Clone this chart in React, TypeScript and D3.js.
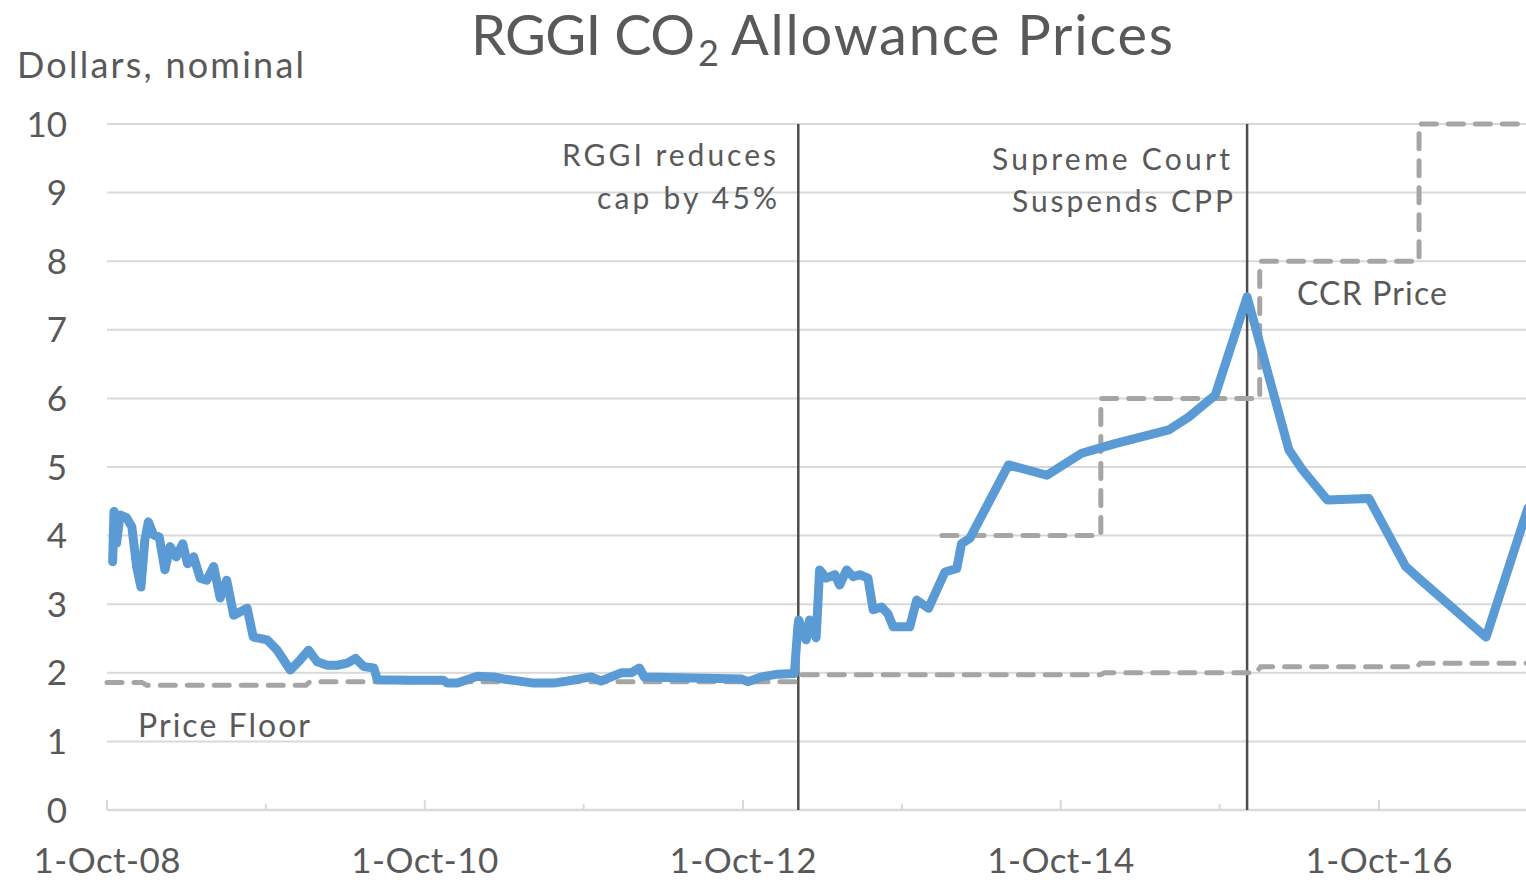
import React from 'react';
import * as d3 from 'd3';

// RGGI secondary market / auction prices
const priceDates = [
  '2008-10-14', '2008-10-17', '2008-10-23', '2008-10-31', '2008-11-15', '2008-11-27', '2008-12-08',
  '2008-12-18', '2008-12-27', '2009-01-04', '2009-01-16', '2009-01-29', '2009-02-11', '2009-02-23',
  '2009-03-09', '2009-03-24', '2009-04-04', '2009-04-18', '2009-05-03', '2009-05-18', '2009-06-03',
  '2009-06-18', '2009-07-03', '2009-07-19', '2009-08-19', '2009-09-02', '2009-10-04', '2009-10-27',
  '2009-11-26', '2009-12-19', '2010-01-07', '2010-01-27', '2010-02-19', '2010-03-14', '2010-04-06',
  '2010-04-25', '2010-05-14', '2010-06-06', '2010-06-14', '2010-08-29', '2010-11-13', '2010-11-22',
  '2010-12-15', '2011-01-30', '2011-03-08', '2011-03-31', '2011-06-08', '2011-07-24', '2011-08-25',
  '2011-10-18', '2011-11-10', '2011-12-26', '2012-01-18', '2012-02-06', '2012-02-17', '2012-09-27',
  '2012-10-12', '2012-11-12', '2012-12-20', '2013-01-27', '2013-02-04', '2013-02-06', '2013-02-23',
  '2013-03-03', '2013-03-18', '2013-03-26', '2013-04-10', '2013-04-30', '2013-05-11', '2013-05-27',
  '2013-06-11', '2013-06-26', '2013-07-15', '2013-07-27', '2013-08-15', '2013-08-30', '2013-09-11',
  '2013-10-19', '2013-11-04', '2013-12-01', '2014-01-08', '2014-02-04', '2014-02-15', '2014-03-06',
  '2014-06-03', '2014-08-30', '2014-11-18', '2015-02-03', '2015-06-06', '2015-07-22', '2015-09-21',
  '2015-12-03', '2016-03-08', '2016-04-08', '2016-06-04', '2016-09-08', '2016-12-01', '2017-01-09',
  '2017-06-04', '2017-09-08',
];
const priceValues = [
  3.62, 4.35, 3.89, 4.30, 4.26, 4.13, 3.55,
  3.25, 3.94, 4.20, 4.01, 3.98, 3.50, 3.84,
  3.69, 3.88, 3.59, 3.69, 3.38, 3.35, 3.55,
  3.09, 3.35, 2.84, 2.94, 2.52, 2.48, 2.33,
  2.04, 2.19, 2.33, 2.16, 2.11, 2.11, 2.14,
  2.21, 2.09, 2.07, 1.90, 1.89, 1.89, 1.85,
  1.85, 1.95, 1.94, 1.91, 1.85, 1.85, 1.88,
  1.94, 1.88, 2.00, 2.00, 2.07, 1.94, 1.91,
  1.87, 1.94, 1.98, 1.99, 2.67, 2.77, 2.48,
  2.77, 2.51, 3.50, 3.38, 3.43, 3.28, 3.50,
  3.40, 3.43, 3.38, 2.92, 2.96, 2.86, 2.67,
  2.67, 3.06, 2.94, 3.47, 3.52, 3.88, 3.96,
  5.03, 4.88, 5.20, 5.34, 5.54, 5.73, 6.05,
  7.48, 5.25, 4.96, 4.52, 4.54, 3.55, 3.33,
  2.52, 4.40,
];

// auction reserve price (price floor)
const floorDates = [
  '2008-10-01', '2008-12-20', '2008-12-31', '2010-01-01', '2010-01-10', '2013-01-31', '2013-02-06',
  '2014-12-31', '2015-01-10', '2015-12-24', '2016-01-03', '2016-12-28', '2017-01-04', '2017-09-30',
];
const floorValues = [1.86, 1.86, 1.82, 1.82, 1.87, 1.87, 1.97, 1.97, 2.0, 2.0, 2.09, 2.09, 2.14, 2.14];

// cost containment reserve trigger price
const ccrDates = [
  '2014-01-01', '2015-01-01', '2015-01-01', '2016-01-01', '2016-01-01', '2017-01-01', '2017-01-01', '2017-09-30',
];
const ccrValues = [4, 4, 6, 6, 8, 8, 10, 10];

const eventDates = ['2013-02-05', '2015-12-03'];
const yTicks = [0, 1, 2, 3, 4, 5, 6, 7, 8, 9, 10];
const tickYears = [2008, 2009, 2010, 2011, 2012, 2013, 2014, 2015, 2016];
const labelYears = [2008, 2010, 2012, 2014, 2016];

const width = 1526;
const height = 882;
const grey = '#595959';
const font = 'Lato, "Open Sans", sans-serif';

export default function App() {
  const parse = d3.timeParse('%Y-%m-%d');
  const x = d3
    .scaleTime()
    .domain([new Date(2008, 9, 1), new Date(2016, 9, 1)])
    .range([107, 1379]);
  const y = d3.scaleLinear().domain([0, 10]).range([810, 124]);

  const line = d3
    .line<[Date, number]>()
    .x((d) => x(d[0]))
    .y((d) => y(d[1]));

  const price = priceDates.map((d, i) => [parse(d) as Date, priceValues[i]] as [Date, number]);
  const floor = floorDates.map((d, i) => [parse(d) as Date, floorValues[i]] as [Date, number]);
  const ccr = ccrDates.map((d, i) => [parse(d) as Date, ccrValues[i]] as [Date, number]);
  const fmt = d3.timeFormat('%-d-%b-%y');

  return (
    <svg
      width={width}
      height={height}
      style={{ position: 'absolute', left: 0, top: 0, background: '#fff' }}
    >
      <defs>
        <clipPath id="plot">
          <rect x={100} y={100} width={width - 100} height={720} />
        </clipPath>
      </defs>

      {/* title */}
      <g fill={grey} fontFamily={font}>
        <text x={471} y={55} fontSize={56} textLength={224} lengthAdjust="spacing">RGGI CO</text>
        <text x={698} y={66} fontSize={36}>2</text>
        <text x={731} y={55} fontSize={56} textLength={442} lengthAdjust="spacing">Allowance Prices</text>
        <text x={17} y={78} fontSize={36} textLength={287} lengthAdjust="spacing">Dollars, nominal</text>
      </g>

      {/* gridlines */}
      {yTicks.filter((t) => t > 0).map((t) => (
        <line key={t} x1={107} x2={width} y1={y(t)} y2={y(t)} stroke="#d9d9d9" strokeWidth={2} />
      ))}
      <line x1={107} x2={width} y1={y(0)} y2={y(0)} stroke="#d9d9d9" strokeWidth={2.5} />
      {tickYears.map((yr) => {
        const major = labelYears.includes(yr);
        const px = x(new Date(yr, 9, 1));
        return (
          <line key={yr} x1={px} x2={px} y1={y(0)} y2={y(0) - (major ? 10 : 6)} stroke="#d9d9d9" strokeWidth={2} />
        );
      })}

      {/* y tick labels */}
      {yTicks.map((t) => (
        <text key={t} x={67} y={y(t)} dy="0.36em" textAnchor="end" fontSize={35} fill={grey} fontFamily={font}>
          {t}
        </text>
      ))}

      {/* x tick labels */}
      {labelYears.map((yr) => {
        const dt = new Date(yr, 9, 1);
        return (
          <text key={yr} x={x(dt)} y={873} textAnchor="middle" fontSize={35} fill={grey} fontFamily={font}
            textLength={147} lengthAdjust="spacing">
            {fmt(dt)}
          </text>
        );
      })}

      <g clipPath="url(#plot)">
        {/* event markers */}
        {eventDates.map((d) => {
          const px = x(parse(d) as Date);
          return <line key={d} x1={px} x2={px} y1={y(10)} y2={y(0)} stroke="#4d4d4d" strokeWidth={2.5} />;
        })}

        <path d={line(floor) ?? ''} fill="none" stroke="#a5a5a5" strokeWidth={5}
          strokeDasharray="15 12" strokeLinecap="round" />
        <path d={line(ccr) ?? ''} fill="none" stroke="#a5a5a5" strokeWidth={5}
          strokeDasharray="15 12" strokeLinecap="round" />

        <path d={line(price) ?? ''} fill="none" stroke="#5b9bd5" strokeWidth={9}
          strokeLinejoin="round" strokeLinecap="round" />
      </g>

      {/* annotations */}
      <g fill={grey} fontFamily={font} fontSize={30}>
        <text x={776} y={166} textAnchor="end" textLength={214} lengthAdjust="spacing">RGGI reduces</text>
        <text x={777} y={209} textAnchor="end" textLength={180} lengthAdjust="spacing">cap by 45%</text>
        <text x={1230} y={170} textAnchor="end" textLength={238} lengthAdjust="spacing">Supreme Court</text>
        <text x={1233} y={212} textAnchor="end" textLength={221} lengthAdjust="spacing">Suspends CPP</text>
        <text x={1297} y={305} fontSize={32} textLength={150} lengthAdjust="spacing">CCR Price</text>
        <text x={138} y={737} fontSize={32} textLength={172} lengthAdjust="spacing">Price Floor</text>
      </g>
    </svg>
  );
}
